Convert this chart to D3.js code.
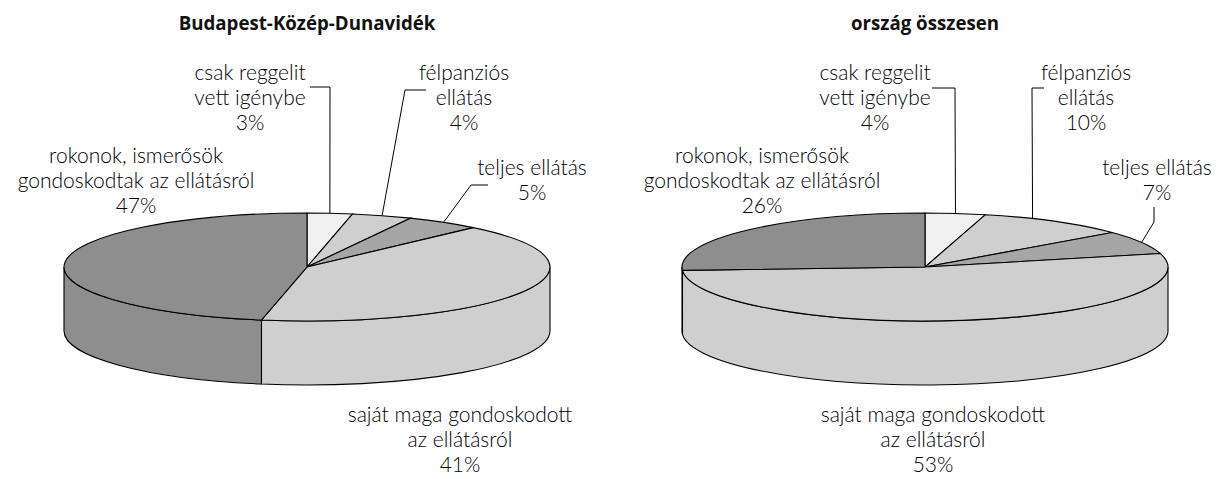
<!DOCTYPE html>
<html>
  <head>
    <meta charset="utf-8">
    <style>
      body { margin: 0; background-color: #fff; }
      svg text { font-family: Lato, sans-serif; fill: #000; }
      svg text.title { font-family: "Open Sans", sans-serif; font-weight: bold; fill: #111; }
    </style>
  </head>
  <body>
    <svg width="1219" height="479"></svg>
    <script src="https://d3js.org/d3.v7.min.js"></script>
    <script>
    // data
    var categories = ["csak reggelit vett igénybe", "félpanziós ellátás", "teljes ellátás",
                      "saját maga gondoskodott az ellátásról", "rokonok, ismerősök gondoskodtak az ellátásról"];
    var labelLines = [["csak reggelit", "vett igénybe"], ["félpanziós", "ellátás"], ["teljes ellátás"],
                      ["saját maga gondoskodott", "az ellátásról"], ["rokonok, ismerősök", "gondoskodtak az ellátásról"]];
    var titles = ["Budapest-Közép-Dunavidék", "ország összesen"];
    var budapestValues = [3, 4, 5, 41, 47];
    var orszagValues = [4, 10, 7, 53, 26];
    var colors = ["#f0f0f0", "#cfcfcf", "#a6a6a6", "#cfcfcf", "#8e8e8e"];

    // layout: label anchor (x, first baseline), leader start/elbow, anchor fraction in slice
    var charts = [
      { title: titles[0], values: budapestValues, cx: 307, cy: 267,
        labels: [
          { x: 250, y: 80, lead: [[310, 87], [330, 87]], f: 0.5 },
          { x: 464, y: 80, lead: [[426, 90], [405, 90]], f: 0.5 },
          { x: 532, y: 175, lead: [[488, 185], [471, 185]], f: 0.5 },
          { x: 460, y: 422 },
          { x: 136, y: 163 }
        ] },
      { title: titles[1], values: orszagValues, cx: 925, cy: 267,
        labels: [
          { x: 875, y: 80, lead: [[932, 88], [955, 88]], f: 0.5 },
          { x: 1086, y: 80, lead: [[1044, 88], [1032, 88]], f: 0.33 },
          { x: 1157, y: 175, lead: [[1154, 207], [1154, 222]], f: 0.5 },
          { x: 933, y: 422 },
          { x: 762, y: 163 }
        ] }
    ];

    var rx = 243, ry = 54, depth = 64, lineH = 25;
    var svg = d3.select("svg");
    var pie = d3.pie().sort(null).value(function(d) { return d; });

    charts.forEach(function(c) {
      var arcs = pie(c.values);
      var px = function(a) { return c.cx + rx * Math.sin(a); };
      var py = function(a) { return c.cy - ry * Math.cos(a); };
      var g = svg.append("g");

      g.append("text")
          .attr("class", "title")
          .attr("x", c.cx).attr("y", 30)
          .attr("text-anchor", "middle")
          .style("font-size", "18.7px")
          .text(c.title);

      // front walls
      g.selectAll(".side")
          .data(arcs.filter(function(d) { return d.endAngle > Math.PI / 2 && d.startAngle < 3 * Math.PI / 2; }))
        .enter().append("path")
          .attr("class", "side")
          .attr("fill", function(d) { return colors[d.index]; })
          .attr("stroke", "#000").attr("stroke-width", 1.1)
          .attr("d", function(d) {
            var a0 = Math.max(d.startAngle, Math.PI / 2), a1 = Math.min(d.endAngle, 3 * Math.PI / 2);
            return "M" + px(a0) + "," + py(a0) +
                   "A" + rx + "," + ry + " 0 0 1 " + px(a1) + "," + py(a1) +
                   "L" + px(a1) + "," + (py(a1) + depth) +
                   "A" + rx + "," + ry + " 0 0 0 " + px(a0) + "," + (py(a0) + depth) + "Z";
          });

      // top faces
      g.append("g")
          .attr("transform", "translate(" + c.cx + "," + c.cy + ") scale(1," + (ry / rx) + ")")
        .selectAll("path")
          .data(arcs)
        .enter().append("path")
          .attr("d", d3.arc().innerRadius(0).outerRadius(rx))
          .attr("fill", function(d) { return colors[d.index]; })
          .attr("stroke", "#000").attr("stroke-width", 1.1)
          .attr("vector-effect", "non-scaling-stroke");

      // leader lines
      arcs.forEach(function(d, i) {
        var l = c.labels[i];
        if (!l.lead) return;
        var a = d.startAngle + (d.endAngle - d.startAngle) * l.f;
        var pts = l.lead.concat([[px(a), py(a)]]);
        g.append("path")
            .attr("d", d3.line()(pts))
            .attr("fill", "none").attr("stroke", "#000").attr("stroke-width", 1);
      });

      // labels
      arcs.forEach(function(d, i) {
        var l = c.labels[i];
        var lines = labelLines[i].concat([Math.round(d.value) + "%"]);
        var t = g.append("text")
            .attr("text-anchor", "middle")
            .style("font-size", "21px")
            .style("font-weight", 300);
        t.selectAll("tspan")
            .data(lines)
          .enter().append("tspan")
            .attr("x", l.x)
            .attr("y", function(s, k) { return l.y + k * lineH; })
            .text(function(s) { return s; });
      });
    });
    </script>
  </body>
</html>
